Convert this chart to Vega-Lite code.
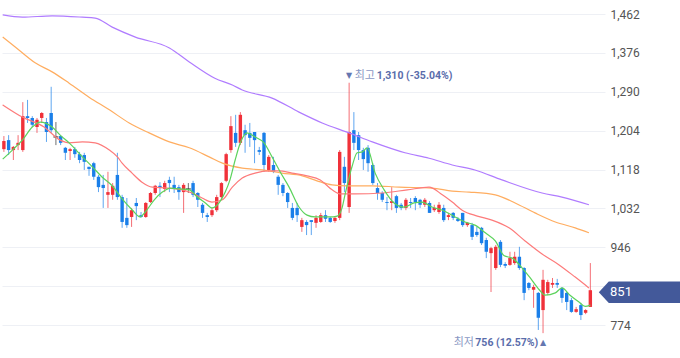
{
  "$schema": "https://vega.github.io/schema/vega-lite/v6.json",
  "width": 603,
  "height": 358,
  "padding": 0,
  "background": "white",
  "config": {
    "view": {"stroke": null},
    "axisRight": {"grid":true,"gridColor":"#eef0f5","gridWidth":1,"domain":false,"ticks":false,"labelPadding":5,"labelColor":"#555555","labelFontSize":12,"labelFont":"Roboto","labelAlign":"left","title":null}
  },
  "datasets": {
    "candles": [
      {"i":0,"o":1163,"h":1192,"l":1157,"c":1181},
      {"i":1,"o":1183,"h":1194,"l":1150,"c":1161},
      {"i":2,"o":1161,"h":1170,"l":1139,"c":1168},
      {"i":3,"o":1172,"h":1194,"l":1161,"c":1177},
      {"i":4,"o":1161,"h":1267,"l":1157,"c":1236},
      {"i":5,"o":1236,"h":1272,"l":1221,"c":1232},
      {"i":6,"o":1232,"h":1236,"l":1212,"c":1217},
      {"i":7,"o":1212,"h":1232,"l":1199,"c":1228},
      {"i":8,"o":1232,"h":1245,"l":1221,"c":1243},
      {"i":9,"o":1223,"h":1232,"l":1179,"c":1201},
      {"i":10,"o":1243,"h":1301,"l":1199,"c":1205},
      {"i":11,"o":1190,"h":1223,"l":1172,"c":1190},
      {"i":12,"o":1192,"h":1194,"l":1172,"c":1177},
      {"i":13,"o":1166,"h":1168,"l":1139,"c":1155},
      {"i":14,"o":1159,"h":1166,"l":1139,"c":1163},
      {"i":15,"o":1163,"h":1168,"l":1144,"c":1152},
      {"i":16,"o":1152,"h":1157,"l":1132,"c":1139},
      {"i":17,"o":1150,"h":1155,"l":1117,"c":1135},
      {"i":18,"o":1124,"h":1124,"l":1104,"c":1119},
      {"i":19,"o":1132,"h":1135,"l":1095,"c":1102},
      {"i":20,"o":1102,"h":1106,"l":1068,"c":1079},
      {"i":21,"o":1084,"h":1106,"l":1033,"c":1077},
      {"i":22,"o":1062,"h":1113,"l":1033,"c":1068},
      {"i":23,"o":1062,"h":1088,"l":1051,"c":1082},
      {"i":24,"o":1106,"h":1155,"l":1051,"c":1057},
      {"i":25,"o":1057,"h":1062,"l":989,"c":1002},
      {"i":26,"o":1011,"h":1055,"l":989,"c":995},
      {"i":27,"o":1013,"h":1033,"l":991,"c":1028},
      {"i":28,"o":1044,"h":1055,"l":1006,"c":1037},
      {"i":29,"o":1017,"h":1024,"l":1011,"c":1013},
      {"i":30,"o":1013,"h":1046,"l":1011,"c":1044},
      {"i":31,"o":1046,"h":1068,"l":1044,"c":1066},
      {"i":32,"o":1066,"h":1084,"l":1062,"c":1082},
      {"i":33,"o":1082,"h":1090,"l":1057,"c":1077},
      {"i":34,"o":1075,"h":1093,"l":1068,"c":1088},
      {"i":35,"o":1095,"h":1102,"l":1068,"c":1088},
      {"i":36,"o":1084,"h":1102,"l":1066,"c":1077},
      {"i":37,"o":1079,"h":1084,"l":1051,"c":1068},
      {"i":38,"o":1068,"h":1088,"l":1022,"c":1084},
      {"i":39,"o":1075,"h":1088,"l":1066,"c":1075},
      {"i":40,"o":1088,"h":1093,"l":1057,"c":1062},
      {"i":41,"o":1066,"h":1068,"l":1035,"c":1051},
      {"i":42,"o":1040,"h":1044,"l":1011,"c":1022},
      {"i":43,"o":1017,"h":1022,"l":1002,"c":1013},
      {"i":44,"o":1017,"h":1033,"l":1013,"c":1028},
      {"i":45,"o":1028,"h":1062,"l":1024,"c":1057},
      {"i":46,"o":1057,"h":1090,"l":1051,"c":1088},
      {"i":47,"o":1093,"h":1155,"l":1090,"c":1152},
      {"i":48,"o":1161,"h":1236,"l":1155,"c":1214},
      {"i":49,"o":1199,"h":1239,"l":1168,"c":1177},
      {"i":50,"o":1177,"h":1245,"l":1172,"c":1239},
      {"i":51,"o":1205,"h":1217,"l":1155,"c":1194},
      {"i":52,"o":1199,"h":1221,"l":1168,"c":1188},
      {"i":53,"o":1201,"h":1201,"l":1132,"c":1183},
      {"i":54,"o":1161,"h":1168,"l":1150,"c":1157},
      {"i":55,"o":1199,"h":1201,"l":1113,"c":1128},
      {"i":56,"o":1117,"h":1150,"l":1113,"c":1146},
      {"i":57,"o":1128,"h":1146,"l":1110,"c":1113},
      {"i":58,"o":1102,"h":1106,"l":1062,"c":1084},
      {"i":59,"o":1084,"h":1088,"l":1059,"c":1066},
      {"i":60,"o":1066,"h":1068,"l":1033,"c":1046},
      {"i":61,"o":1033,"h":1044,"l":1006,"c":1011},
      {"i":62,"o":1033,"h":1044,"l":1002,"c":1017},
      {"i":63,"o":991,"h":1011,"l":980,"c":1006},
      {"i":64,"o":1002,"h":1006,"l":973,"c":995},
      {"i":65,"o":1006,"h":1006,"l":973,"c":1002},
      {"i":66,"o":1000,"h":1017,"l":989,"c":1011},
      {"i":67,"o":1002,"h":1022,"l":1000,"c":1017},
      {"i":68,"o":1017,"h":1028,"l":1002,"c":1009},
      {"i":69,"o":1011,"h":1013,"l":1000,"c":1002},
      {"i":70,"o":1004,"h":1013,"l":1000,"c":1011},
      {"i":71,"o":1011,"h":1161,"l":1006,"c":1157},
      {"i":72,"o":1124,"h":1146,"l":1068,"c":1088},
      {"i":73,"o":1035,"h":1310,"l":1022,"c":1201},
      {"i":74,"o":1205,"h":1245,"l":1161,"c":1177},
      {"i":75,"o":1194,"h":1201,"l":1139,"c":1161},
      {"i":76,"o":1161,"h":1166,"l":1117,"c":1141},
      {"i":77,"o":1166,"h":1172,"l":1113,"c":1132},
      {"i":78,"o":1128,"h":1132,"l":1084,"c":1088},
      {"i":79,"o":1077,"h":1088,"l":1051,"c":1066},
      {"i":80,"o":1066,"h":1070,"l":1046,"c":1051},
      {"i":81,"o":1046,"h":1057,"l":1028,"c":1044},
      {"i":82,"o":1044,"h":1079,"l":1028,"c":1048},
      {"i":83,"o":1059,"h":1062,"l":1022,"c":1033},
      {"i":84,"o":1040,"h":1044,"l":1028,"c":1033},
      {"i":85,"o":1033,"h":1055,"l":1028,"c":1051},
      {"i":86,"o":1046,"h":1055,"l":1033,"c":1044},
      {"i":87,"o":1055,"h":1059,"l":1028,"c":1046},
      {"i":88,"o":1051,"h":1053,"l":1033,"c":1040},
      {"i":89,"o":1040,"h":1055,"l":1035,"c":1051},
      {"i":90,"o":1044,"h":1048,"l":1022,"c":1022},
      {"i":91,"o":1028,"h":1040,"l":1024,"c":1033},
      {"i":92,"o":1024,"h":1046,"l":1020,"c":1040},
      {"i":93,"o":1033,"h":1040,"l":1002,"c":1006},
      {"i":94,"o":1013,"h":1022,"l":1006,"c":1017},
      {"i":95,"o":1022,"h":1024,"l":1006,"c":1011},
      {"i":96,"o":1009,"h":1013,"l":1002,"c":1004},
      {"i":97,"o":1022,"h":1022,"l":991,"c":995},
      {"i":98,"o":995,"h":1002,"l":991,"c":1000},
      {"i":99,"o":995,"h":1000,"l":962,"c":969},
      {"i":100,"o":980,"h":991,"l":969,"c":973},
      {"i":101,"o":989,"h":991,"l":951,"c":955},
      {"i":102,"o":962,"h":967,"l":922,"c":936},
      {"i":103,"o":933,"h":947,"l":847,"c":944},
      {"i":104,"o":900,"h":951,"l":896,"c":947},
      {"i":105,"o":958,"h":962,"l":902,"c":907},
      {"i":106,"o":909,"h":913,"l":900,"c":905},
      {"i":107,"o":907,"h":936,"l":905,"c":922},
      {"i":108,"o":911,"h":936,"l":907,"c":925},
      {"i":109,"o":925,"h":947,"l":896,"c":900},
      {"i":110,"o":900,"h":902,"l":829,"c":845},
      {"i":111,"o":867,"h":869,"l":851,"c":856},
      {"i":112,"o":852,"h":863,"l":812,"c":858},
      {"i":113,"o":845,"h":847,"l":763,"c":790},
      {"i":114,"o":807,"h":896,"l":756,"c":874},
      {"i":115,"o":845,"h":874,"l":840,"c":869},
      {"i":116,"o":863,"h":878,"l":856,"c":867},
      {"i":117,"o":867,"h":876,"l":856,"c":863},
      {"i":118,"o":856,"h":858,"l":823,"c":834},
      {"i":119,"o":845,"h":847,"l":807,"c":825},
      {"i":120,"o":829,"h":834,"l":801,"c":803},
      {"i":121,"o":803,"h":814,"l":801,"c":809},
      {"i":122,"o":818,"h":823,"l":785,"c":796},
      {"i":123,"o":801,"h":809,"l":798,"c":807},
      {"i":124,"o":814,"h":911,"l":814,"c":851}
    ],
    "ma": [
      {"ma":"120","i":-0.25,"v":1460},{"ma":"120","i":3.9,"v":1455},{"ma":"120","i":10.2,"v":1458},{"ma":"120","i":16.6,"v":1455},{"ma":"120","i":19.3,"v":1453},{"ma":"120","i":22.9,"v":1433},{"ma":"120","i":27.8,"v":1411},{"ma":"120","i":35.0,"v":1387},{"ma":"120","i":39.2,"v":1356},{"ma":"120","i":44.6,"v":1320},{"ma":"120","i":48.3,"v":1305},{"ma":"120","i":50.4,"v":1294},{"ma":"120","i":56.7,"v":1276},{"ma":"120","i":62.4,"v":1245},{"ma":"120","i":67.3,"v":1221},{"ma":"120","i":73.0,"v":1199},{"ma":"120","i":77.9,"v":1179},{"ma":"120","i":84.8,"v":1155},{"ma":"120","i":89.9,"v":1143},{"ma":"120","i":94.8,"v":1128},{"ma":"120","i":99.6,"v":1117},{"ma":"120","i":105.3,"v":1095},{"ma":"120","i":113.8,"v":1066},{"ma":"120","i":118.0,"v":1057},{"ma":"120","i":123.7,"v":1040},
      {"ma":"60","i":-0.25,"v":1411},{"ma":"60","i":2.4,"v":1389},{"ma":"60","i":6.6,"v":1354},{"ma":"60","i":10.2,"v":1334},{"ma":"60","i":13.8,"v":1309},{"ma":"60","i":18.0,"v":1278},{"ma":"60","i":22.3,"v":1250},{"ma":"60","i":26.5,"v":1221},{"ma":"60","i":30.7,"v":1199},{"ma":"60","i":35.0,"v":1179},{"ma":"60","i":39.2,"v":1166},{"ma":"60","i":43.4,"v":1146},{"ma":"60","i":46.2,"v":1132},{"ma":"60","i":50.4,"v":1121},{"ma":"60","i":54.6,"v":1117},{"ma":"60","i":58.8,"v":1110},{"ma":"60","i":63.1,"v":1104},{"ma":"60","i":66.2,"v":1093},{"ma":"60","i":69.4,"v":1084},{"ma":"60","i":72.6,"v":1082},{"ma":"60","i":77.9,"v":1082},{"ma":"60","i":83.6,"v":1079},{"ma":"60","i":90.5,"v":1077},{"ma":"60","i":94.8,"v":1070},{"ma":"60","i":98.4,"v":1068},{"ma":"60","i":103.9,"v":1062},{"ma":"60","i":108.1,"v":1044},{"ma":"60","i":112.3,"v":1022},{"ma":"60","i":116.6,"v":1002},{"ma":"60","i":120.8,"v":989},{"ma":"60","i":123.7,"v":978},
      {"ma":"20","i":-0.25,"v":1261},{"ma":"20","i":3.9,"v":1234},{"ma":"20","i":8.5,"v":1212},{"ma":"20","i":11.9,"v":1183},{"ma":"20","i":13.8,"v":1177},{"ma":"20","i":16.6,"v":1179},{"ma":"20","i":19.3,"v":1177},{"ma":"20","i":22.3,"v":1161},{"ma":"20","i":24.0,"v":1146},{"ma":"20","i":25.0,"v":1132},{"ma":"20","i":27.1,"v":1110},{"ma":"20","i":29.2,"v":1090},{"ma":"20","i":31.4,"v":1079},{"ma":"20","i":34.5,"v":1077},{"ma":"20","i":37.7,"v":1073},{"ma":"20","i":39.8,"v":1066},{"ma":"20","i":41.9,"v":1055},{"ma":"20","i":44.0,"v":1046},{"ma":"20","i":46.2,"v":1051},{"ma":"20","i":48.3,"v":1079},{"ma":"20","i":50.4,"v":1099},{"ma":"20","i":53.1,"v":1110},{"ma":"20","i":56.1,"v":1115},{"ma":"20","i":58.2,"v":1115},{"ma":"20","i":60.9,"v":1110},{"ma":"20","i":64.1,"v":1104},{"ma":"20","i":66.9,"v":1095},{"ma":"20","i":69.4,"v":1073},{"ma":"20","i":71.1,"v":1064},{"ma":"20","i":74.3,"v":1064},{"ma":"20","i":80.0,"v":1066},{"ma":"20","i":85.3,"v":1073},{"ma":"20","i":89.9,"v":1079},{"ma":"20","i":92.7,"v":1062},{"ma":"20","i":94.8,"v":1046},{"ma":"20","i":96.9,"v":1028},{"ma":"20","i":100.1,"v":1015},{"ma":"20","i":103.2,"v":1006},{"ma":"20","i":106.8,"v":989},{"ma":"20","i":110.2,"v":960},{"ma":"20","i":113.8,"v":931},{"ma":"20","i":117.4,"v":907},{"ma":"20","i":120.8,"v":880},{"ma":"20","i":123.7,"v":856},
      {"ma":"5","i":-0.25,"v":1141},{"ma":"5","i":1.8,"v":1161},{"ma":"5","i":3.9,"v":1183},{"ma":"5","i":6.0,"v":1212},{"ma":"5","i":7.7,"v":1223},{"ma":"5","i":10.2,"v":1212},{"ma":"5","i":11.9,"v":1194},{"ma":"5","i":13.8,"v":1177},{"ma":"5","i":16.6,"v":1146},{"ma":"5","i":18.7,"v":1124},{"ma":"5","i":20.8,"v":1101},{"ma":"5","i":22.9,"v":1082},{"ma":"5","i":25.0,"v":1053},{"ma":"5","i":27.1,"v":1029},{"ma":"5","i":28.8,"v":1013},{"ma":"5","i":29.9,"v":1024},{"ma":"5","i":31.8,"v":1051},{"ma":"5","i":33.5,"v":1068},{"ma":"5","i":35.2,"v":1077},{"ma":"5","i":37.1,"v":1075},{"ma":"5","i":39.2,"v":1073},{"ma":"5","i":40.9,"v":1057},{"ma":"5","i":42.6,"v":1044},{"ma":"5","i":44.0,"v":1033},{"ma":"5","i":45.5,"v":1044},{"ma":"5","i":46.8,"v":1068},{"ma":"5","i":47.8,"v":1095},{"ma":"5","i":48.9,"v":1139},{"ma":"5","i":50.0,"v":1177},{"ma":"5","i":51.4,"v":1199},{"ma":"5","i":53.1,"v":1190},{"ma":"5","i":55.0,"v":1177},{"ma":"5","i":56.7,"v":1146},{"ma":"5","i":58.4,"v":1113},{"ma":"5","i":60.3,"v":1079},{"ma":"5","i":62.4,"v":1035},{"ma":"5","i":64.1,"v":1017},{"ma":"5","i":65.8,"v":1013},{"ma":"5","i":68.8,"v":1013},{"ma":"5","i":70.5,"v":1015},{"ma":"5","i":71.5,"v":1033},{"ma":"5","i":72.2,"v":1066},{"ma":"5","i":73.6,"v":1124},{"ma":"5","i":74.7,"v":1155},{"ma":"5","i":75.8,"v":1157},{"ma":"5","i":76.8,"v":1166},{"ma":"5","i":78.5,"v":1110},{"ma":"5","i":80.4,"v":1073},{"ma":"5","i":82.5,"v":1044},{"ma":"5","i":84.6,"v":1035},{"ma":"5","i":86.7,"v":1044},{"ma":"5","i":88.4,"v":1046},{"ma":"5","i":90.5,"v":1035},{"ma":"5","i":92.7,"v":1028},{"ma":"5","i":95.4,"v":1013},{"ma":"5","i":97.5,"v":1002},{"ma":"5","i":99.6,"v":995},{"ma":"5","i":101.8,"v":978},{"ma":"5","i":103.9,"v":960},{"ma":"5","i":105.8,"v":927},{"ma":"5","i":107.5,"v":922},{"ma":"5","i":109.6,"v":900},{"ma":"5","i":111.3,"v":878},{"ma":"5","i":113.2,"v":852},{"ma":"5","i":114.4,"v":840},{"ma":"5","i":116.6,"v":845},{"ma":"5","i":118.0,"v":856},{"ma":"5","i":119.7,"v":840},{"ma":"5","i":121.6,"v":825},{"ma":"5","i":122.9,"v":815},{"ma":"5","i":124.0,"v":818}
    ],
    "notes": [
      {"side":"high","i":73,"v":1310,"tri":"▼","tag":"최고","price":"1,310 (-35.04%)"},
      {"side":"low","i":114,"v":756,"tri":"▲","tag":"최저","price":"756 (12.57%)"}
    ]
  },
  "encoding": {
    "x": {"field":"i","type":"quantitative","scale":{"domain":[-0.4,127.1],"nice":false,"zero":false},"axis":null}
  },
  "layer": [
    {
      "data": {"name":"candles"},
      "mark": {"type":"rule","strokeWidth":1,"opacity":0.7},
      "encoding": {
        "y": {"field":"l","type":"quantitative","scale":{"domain":[701,1493],"nice":false,"zero":false},
              "axis":{"orient":"right","title":null,"values":[774,860,946,1032,1118,1204,1290,1376,1462],"format":",d","labelExpr":"datum.value == 860 ? '' : datum.label"}},
        "y2": {"field":"h"},
        "color": {"condition":[{"test":"datum.c > datum.o","value":"#f0313a"},{"test":"datum.c < datum.o","value":"#1a7fe9"}],"value":"#333333"}
      }
    },
    {
      "data": {"name":"candles"},
      "mark": {"type":"rule","strokeWidth":3.4},
      "encoding": {
        "y": {"field":"o","type":"quantitative","axis":{"orient":"right","title":null,"values":[774,860,946,1032,1118,1204,1290,1376,1462],"format":",d","labelExpr":"datum.value == 860 ? '' : datum.label"}},
        "y2": {"field":"c"},
        "color": {"condition":[{"test":"datum.c > datum.o","value":"#f0313a"},{"test":"datum.c < datum.o","value":"#1a7fe9"}],"value":"#333333"}
      }
    },
    {
      "data": {"name":"candles"},
      "transform": [{"filter":"datum.o == datum.c"}],
      "mark": {"type":"tick","orient":"horizontal","size":5,"thickness":1.5,"color":"#333333"},
      "encoding": {"y": {"field":"o","type":"quantitative","axis":{"orient":"right","title":null,"values":[774,860,946,1032,1118,1204,1290,1376,1462],"format":",d","labelExpr":"datum.value == 860 ? '' : datum.label"}}}
    },
    {
      "data": {"name":"ma"},
      "mark": {"type":"line","strokeWidth":1.2,"interpolate":"monotone"},
      "encoding": {
        "y": {"field":"v","type":"quantitative","axis":{"orient":"right","title":null,"values":[774,860,946,1032,1118,1204,1290,1376,1462],"format":",d","labelExpr":"datum.value == 860 ? '' : datum.label"}},
        "color": {"field":"ma","type":"nominal","scale":{"domain":["120","60","20","5"],"range":["#b07cff","#ffad60","#fd7b7b","#5cd35c"]},"legend":null}
      }
    },
    {
      "data": {"name":"notes"},
      "transform": [{"filter":"datum.side == 'high'"}],
      "encoding": {"y":{"field":"v","type":"quantitative","axis":{"orient":"right","title":null,"values":[774,860,946,1032,1118,1204,1290,1376,1462],"format":",d","labelExpr":"datum.value == 860 ? '' : datum.label"}}},
      "layer": [
        {"mark":{"type":"text","align":"center","baseline":"middle","dy":-6.5,"fontSize":8,"font":"DejaVu Sans","color":"#6577b0"},"encoding":{"text":{"field":"tri"}}},
        {"mark":{"type":"text","align":"left","baseline":"middle","dx":5.6,"dy":-6.5,"fontSize":11,"font":"Noto Sans CJK KR","color":"#8a98c4"},"encoding":{"text":{"field":"tag"}}},
        {"mark":{"type":"text","align":"left","baseline":"middle","dx":27.6,"dy":-6.5,"fontSize":10.5,"fontWeight":"bold","font":"Roboto","color":"#5a6dab"},"encoding":{"text":{"field":"price"}}}
      ]
    },
    {
      "data": {"name":"notes"},
      "transform": [{"filter":"datum.side == 'low'"}],
      "encoding": {"y":{"field":"v","type":"quantitative","axis":{"orient":"right","title":null,"values":[774,860,946,1032,1118,1204,1290,1376,1462],"format":",d","labelExpr":"datum.value == 860 ? '' : datum.label"}}},
      "layer": [
        {"mark":{"type":"text","align":"center","baseline":"middle","dy":10,"fontSize":8,"font":"DejaVu Sans","color":"#6577b0"},"encoding":{"text":{"field":"tri"}}},
        {"mark":{"type":"text","align":"left","baseline":"middle","dx":-89.3,"dy":10,"fontSize":11,"font":"Noto Sans CJK KR","color":"#8a98c4"},"encoding":{"text":{"field":"tag"}}},
        {"mark":{"type":"text","align":"left","baseline":"middle","dx":-67.7,"dy":10,"fontSize":10.5,"fontWeight":"bold","font":"Roboto","color":"#5a6dab"},"encoding":{"text":{"field":"price"}}}
      ]
    },
    {
      "data": {"name":"candles"},
      "transform": [{"filter":"datum.i == 124"}],
      "encoding": {"y":{"field":"c","type":"quantitative","axis":{"orient":"right","title":null,"values":[774,860,946,1032,1118,1204,1290,1376,1462],"format":",d","labelExpr":"datum.value == 860 ? '' : datum.label"}}},
      "layer": [
        {"mark":{"type":"point","filled":true,"opacity":1,"shape":"M-1,0L-0.76,-0.26L1,-0.26L1,0.26L-0.76,0.26Z","size":6889,"color":"#43599a","xOffset":50,"yOffset":2}},
        {"mark":{"type":"text","align":"left","baseline":"middle","dx":19.7,"dy":2,"fontSize":13,"font":"Roboto","color":"white"},"encoding":{"text":{"field":"c","type":"quantitative","format":",d"}}}
      ]
    }
  ]
}
